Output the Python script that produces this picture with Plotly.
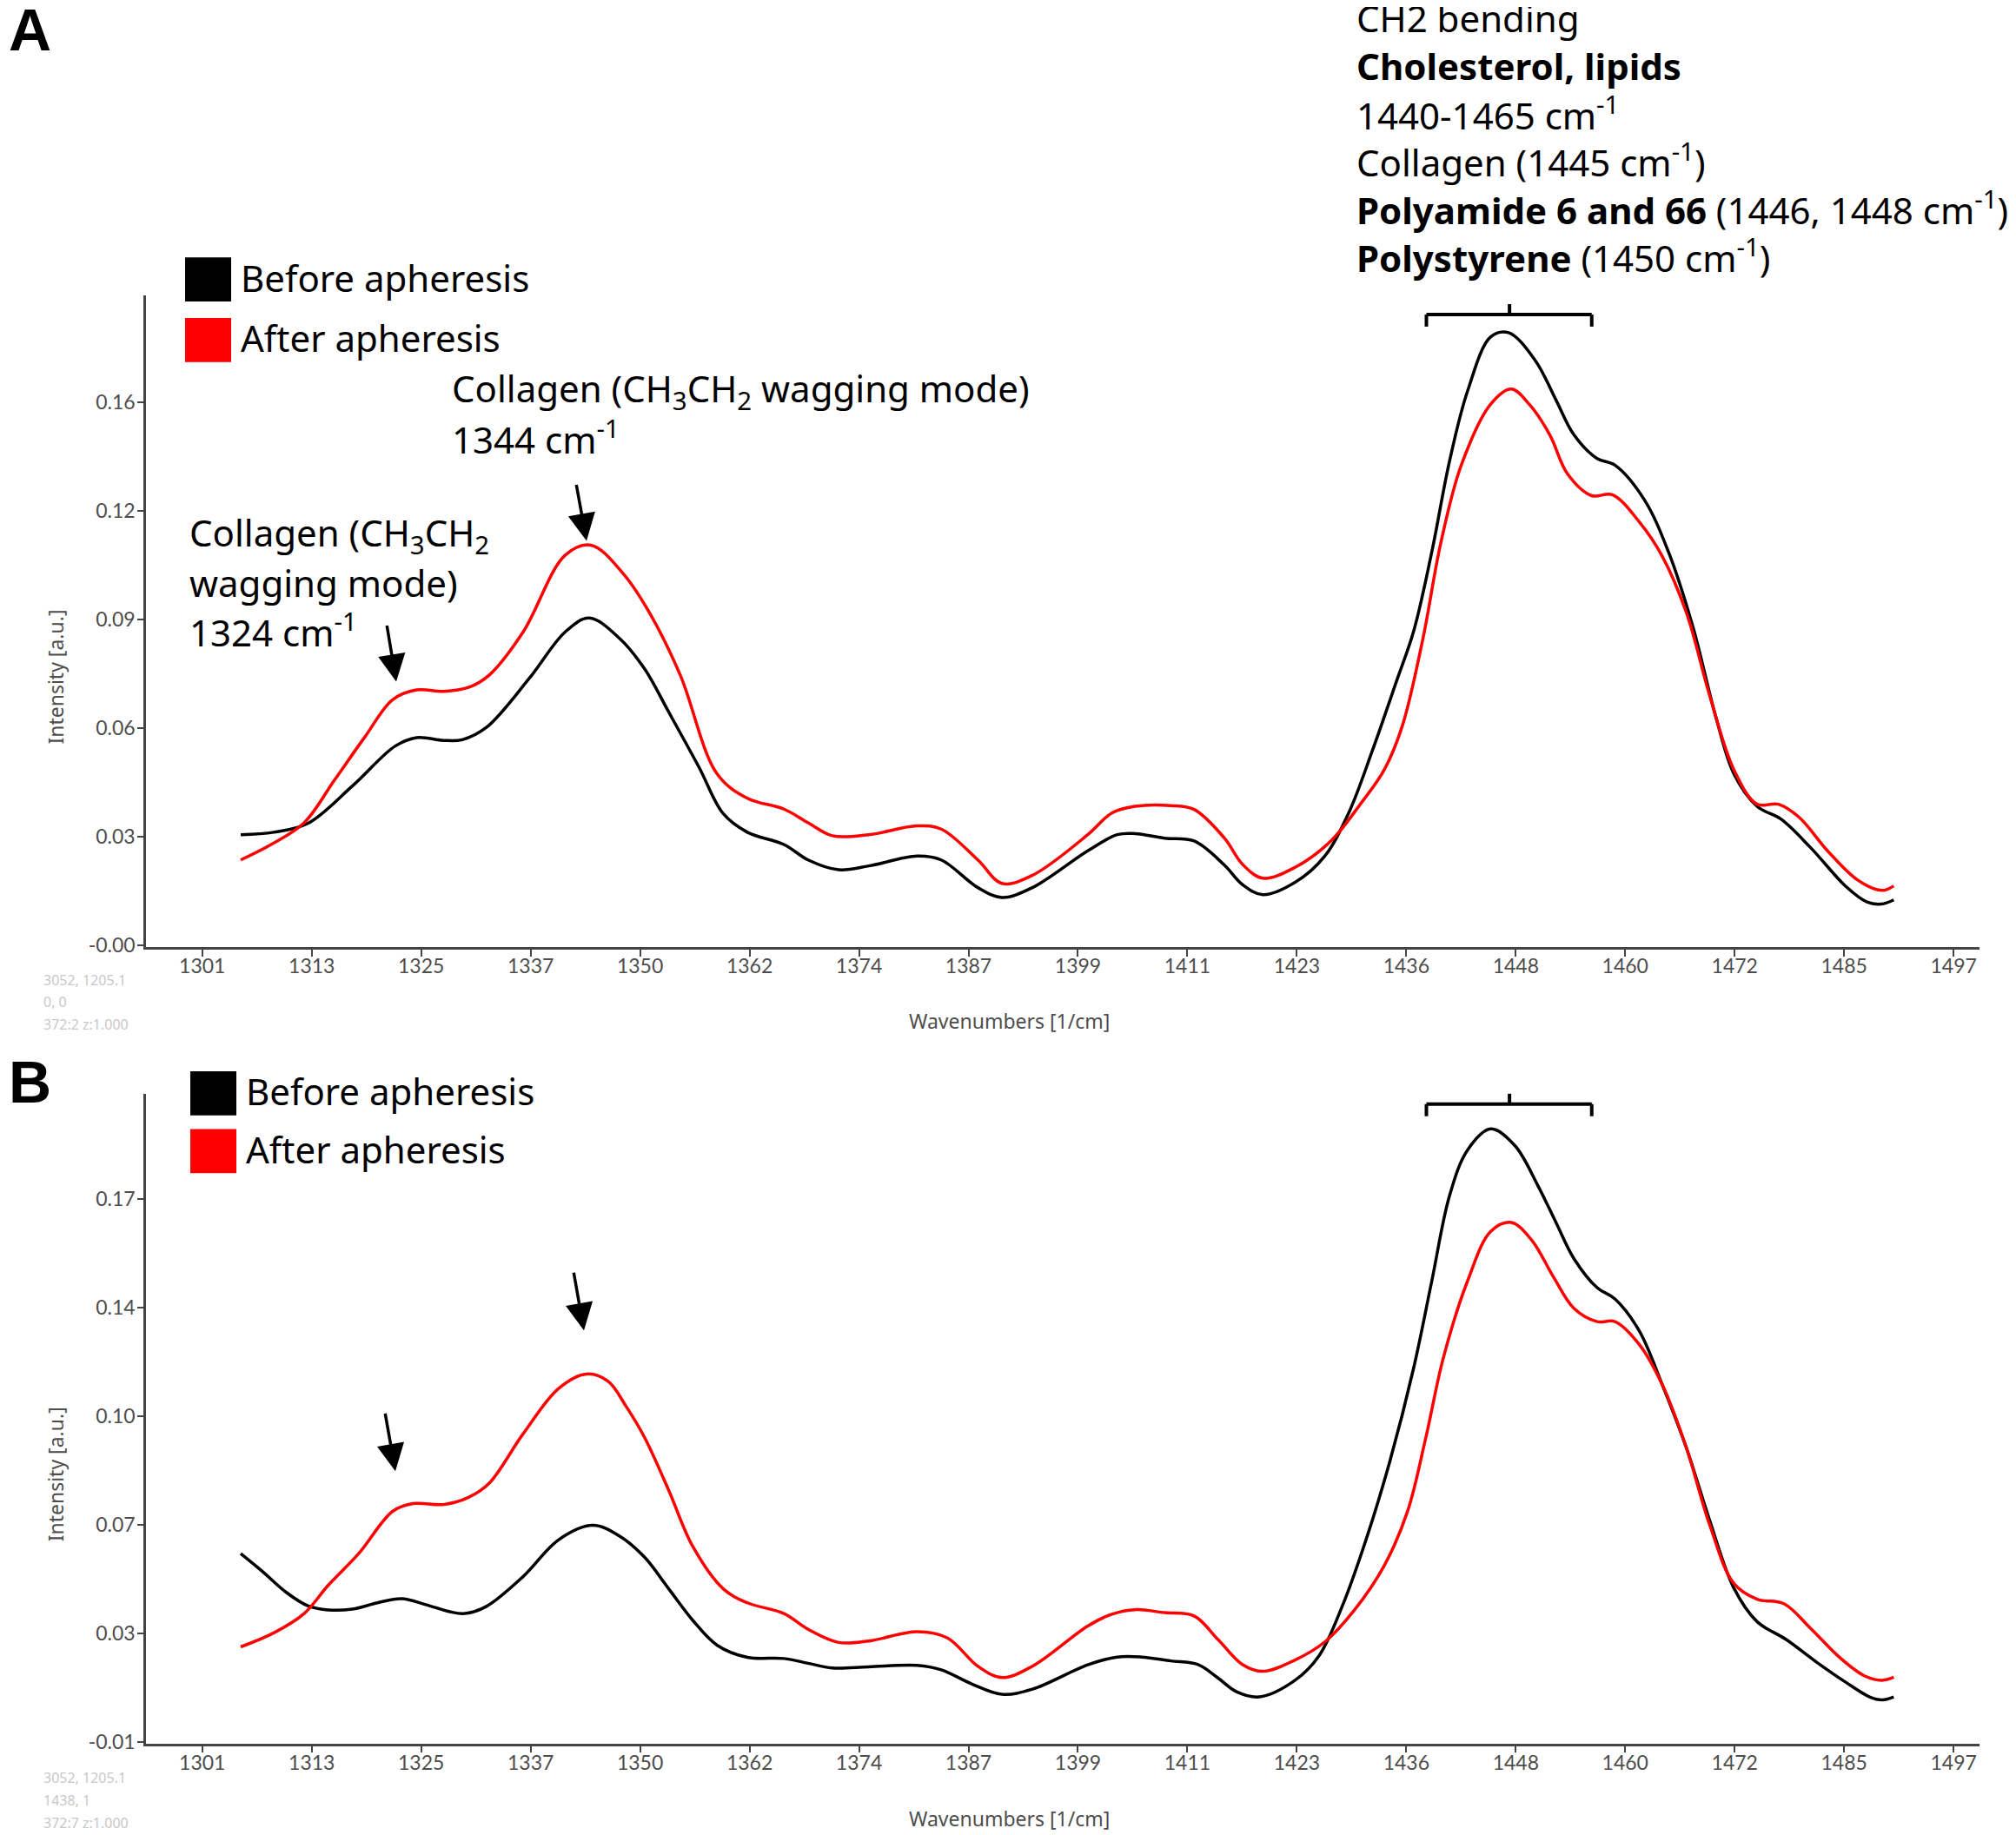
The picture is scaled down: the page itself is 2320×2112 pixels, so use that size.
import plotly.graph_objects as go

W, H = 2320, 2112

# ---------------- data ----------------
a_x_before = [1305.3, 1309.0, 1312.8, 1317.8, 1322.6, 1325.0, 1328.0, 1330.1, 1332.8, 1337.6,
              1341.6, 1344.3, 1347.7, 1350.5, 1353.2, 1356.6, 1359.3, 1362.0, 1366.1, 1368.8,
              1372.2, 1375.6, 1381.0, 1383.7, 1387.8, 1390.5, 1393.9, 1400.1, 1403.4, 1405.4,
              1408.7, 1412.0, 1415.4, 1417.4, 1419.7, 1423.3, 1426.6, 1429.3, 1431.9, 1434.6,
              1436.6, 1438.6, 1440.6, 1442.6, 1445.2, 1447.2, 1450.2, 1452.5, 1454.5, 1457.1,
              1459.1, 1462.4, 1465.1, 1467.8, 1470.4, 1472.4, 1475.0, 1477.7, 1481.0, 1485.0,
              1487.3, 1488.9, 1490.3]
a_before = [0.0316, 0.0323, 0.0348, 0.0455, 0.0569, 0.0593, 0.0585, 0.0587, 0.0622, 0.0762,
            0.0894, 0.0934, 0.0876, 0.0789, 0.0666, 0.0508, 0.0376, 0.0323, 0.0288, 0.0244,
            0.0216, 0.0227, 0.0255, 0.0244, 0.0165, 0.0137, 0.0165, 0.0270, 0.0316, 0.0319,
            0.0306, 0.0298, 0.0229, 0.0174, 0.0145, 0.0180, 0.0254, 0.0378, 0.0552, 0.0750,
            0.0899, 0.1122, 0.1383, 0.1581, 0.1736, 0.1748, 0.1668, 0.1556, 0.1457, 0.1389,
            0.1370, 0.1271, 0.1122, 0.0911, 0.0651, 0.0490, 0.0397, 0.0360, 0.0279, 0.0167,
            0.0124, 0.0118, 0.0130]

a_x_after = [1305.3, 1308.7, 1312.4, 1315.8, 1319.2, 1322.3, 1325.0, 1328.0, 1330.8, 1333.1,
             1336.9, 1341.6, 1344.5, 1348.1, 1351.1, 1354.5, 1358.6, 1362.0, 1366.1, 1368.8,
             1371.5, 1375.6, 1381.0, 1383.7, 1387.8, 1390.5, 1393.9, 1400.1, 1402.8, 1405.4,
             1409.4, 1412.0, 1415.4, 1417.4, 1419.7, 1423.3, 1427.3, 1430.6, 1433.3, 1435.3,
             1437.6, 1439.6, 1441.9, 1445.2, 1447.5, 1449.5, 1451.8, 1453.8, 1456.5, 1458.8,
             1461.8, 1464.4, 1467.1, 1469.7, 1472.4, 1475.0, 1477.4, 1479.7, 1483.0, 1486.3,
             1489.0, 1490.3]
a_after = [0.0244, 0.0288, 0.0350, 0.0472, 0.0595, 0.0701, 0.0729, 0.0725, 0.0736, 0.0771,
           0.0894, 0.1113, 0.1142, 0.1061, 0.0947, 0.0771, 0.0490, 0.0420, 0.0389, 0.0350,
           0.0313, 0.0316, 0.0341, 0.0332, 0.0244, 0.0177, 0.0200, 0.0316, 0.0378, 0.0397,
           0.0399, 0.0388, 0.0306, 0.0232, 0.0192, 0.0223, 0.0298, 0.0403, 0.0502, 0.0626,
           0.0874, 0.1147, 0.1370, 0.1544, 0.1587, 0.1544, 0.1457, 0.1345, 0.1283, 0.1286,
           0.1209, 0.1110, 0.0949, 0.0713, 0.0502, 0.0403, 0.0403, 0.0366, 0.0267, 0.0186,
           0.0157, 0.0170]

b_x_before = [1305.3, 1307.7, 1310.4, 1312.8, 1315.1, 1317.8, 1320.6, 1323.3, 1326.0, 1328.7,
              1330.4, 1332.8, 1336.9, 1340.9, 1344.7, 1347.7, 1350.5, 1353.2, 1355.9, 1358.6,
              1362.0, 1366.1, 1368.8, 1371.5, 1375.6, 1381.0, 1383.7, 1387.1, 1390.5, 1393.9,
              1400.1, 1403.4, 1406.1, 1409.4, 1412.4, 1414.7, 1416.7, 1419.3, 1423.3, 1426.0,
              1428.6, 1431.3, 1433.9, 1436.6, 1438.6, 1440.6, 1442.6, 1445.2, 1447.9, 1450.5,
              1452.5, 1454.5, 1457.1, 1459.1, 1461.8, 1464.4, 1467.1, 1469.7, 1472.4, 1475.0,
              1478.3, 1481.7, 1485.0, 1487.6, 1489.0, 1490.3]
b_before = [0.0553, 0.0494, 0.0423, 0.0378, 0.0364, 0.0367, 0.0388, 0.0402, 0.0382, 0.0358,
            0.0352, 0.0376, 0.0476, 0.0600, 0.0648, 0.0612, 0.0541, 0.0435, 0.0329, 0.0246,
            0.0205, 0.0201, 0.0185, 0.0169, 0.0173, 0.0178, 0.0163, 0.0116, 0.0081, 0.0098,
            0.0180, 0.0206, 0.0206, 0.0193, 0.0181, 0.0135, 0.0090, 0.0072, 0.0128, 0.0211,
            0.0378, 0.0605, 0.0862, 0.1180, 0.1468, 0.1756, 0.1908, 0.1979, 0.1923, 0.1787,
            0.1665, 0.1544, 0.1446, 0.1408, 0.1302, 0.1120, 0.0908, 0.0665, 0.0438, 0.0325,
            0.0264, 0.0188, 0.0120, 0.0072, 0.0062, 0.0072]

b_x_after = [1305.3, 1309.0, 1312.4, 1315.1, 1318.5, 1322.3, 1324.6, 1328.0, 1330.8, 1333.1,
             1336.9, 1340.9, 1344.0, 1346.4, 1348.4, 1350.5, 1353.2, 1355.9, 1359.3, 1362.0,
             1366.1, 1368.8, 1372.2, 1375.6, 1381.0, 1384.4, 1387.8, 1390.5, 1393.9, 1400.1,
             1402.8, 1405.4, 1408.7, 1412.0, 1414.7, 1417.4, 1419.7, 1423.3, 1426.6, 1429.9,
             1433.3, 1435.9, 1437.9, 1439.9, 1442.6, 1445.2, 1447.5, 1449.8, 1452.2, 1454.5,
             1457.1, 1459.1, 1461.8, 1464.4, 1467.1, 1469.7, 1472.4, 1475.0, 1478.0, 1481.0,
             1484.3, 1487.0, 1489.0, 1490.3]
b_after = [0.0240, 0.0287, 0.0352, 0.0447, 0.0553, 0.0695, 0.0721, 0.0718, 0.0742, 0.0789,
           0.0955, 0.1108, 0.1156, 0.1132, 0.1049, 0.0943, 0.0766, 0.0577, 0.0435, 0.0388,
           0.0352, 0.0299, 0.0255, 0.0260, 0.0291, 0.0270, 0.0175, 0.0137, 0.0175, 0.0310,
           0.0350, 0.0365, 0.0355, 0.0344, 0.0264, 0.0181, 0.0158, 0.0196, 0.0256, 0.0362,
           0.0514, 0.0696, 0.0938, 0.1211, 0.1468, 0.1635, 0.1665, 0.1605, 0.1483, 0.1377,
           0.1332, 0.1332, 0.1256, 0.1120, 0.0908, 0.0650, 0.0453, 0.0400, 0.0385, 0.0302,
           0.0203, 0.0143, 0.0128, 0.0138]

x_tickvals = [1301 + 12.25 * i for i in range(17)]
x_ticktext = ["1301", "1313", "1325", "1337", "1350", "1362", "1374", "1387", "1399",
              "1411", "1423", "1436", "1448", "1460", "1472", "1485", "1497"]
a_tickvals = [0.0, 0.031, 0.062, 0.093, 0.124, 0.155]
a_ticktext = ["-0.00", "0.03", "0.06", "0.09", "0.12", "0.16"]
b_tickvals = [-0.008, 0.0285, 0.065, 0.1015, 0.138, 0.1745]
b_ticktext = ["-0.01", "0.03", "0.07", "0.10", "0.14", "0.17"]

series_names = ["Before apheresis", "After apheresis"]
series_colors = ["#000000", "#ff0000"]

# ---------------- helpers ----------------
def px(x):
    return x / W

def py(y):
    return 1 - y / H

TICK_FONT = dict(family="Lato", size=23, color="#4d4d4d")
ANN_FONT = "Noto Sans"
ANN_SIZE = 42

fig = go.Figure()
for xs, ys, name, col, xa, ya in [
    (a_x_before, a_before, series_names[0], series_colors[0], "x", "y"),
    (a_x_after, a_after, series_names[1], series_colors[1], "x", "y"),
    (b_x_before, b_before, series_names[0], series_colors[0], "x2", "y2"),
    (b_x_after, b_after, series_names[1], series_colors[1], "x2", "y2"),
]:
    fig.add_trace(go.Scatter(x=xs, y=ys, mode="lines", name=name, showlegend=False,
                             line=dict(color=col, width=3.5, shape="spline", smoothing=1.0),
                             xaxis=xa, yaxis=ya))

xdom = [px(160), px(2270)]
xcommon = dict(range=[1294.7, 1499.9], tickvals=x_tickvals, ticktext=x_ticktext,
               showgrid=False, zeroline=False, showline=True, linecolor="#444444",
               linewidth=2.5, ticks="outside", ticklen=8, tickwidth=2, tickcolor="#444444",
               tickfont=TICK_FONT, ticklabelstandoff=-8, domain=xdom)
ycommon = dict(showgrid=False, zeroline=False, showline=True, linecolor="#444444",
               linewidth=2.5, ticks="outside", ticklen=7, tickwidth=2, tickcolor="#444444",
               tickfont=TICK_FONT, ticklabelstandoff=-2)

fig.update_layout(
    width=W, height=H,
    margin=dict(l=0, r=0, t=0, b=0),
    paper_bgcolor="white", plot_bgcolor="white",
    xaxis=dict(**xcommon, anchor="y"),
    yaxis=dict(**ycommon, range=[-0.0004, 0.1854], tickvals=a_tickvals, ticktext=a_ticktext,
               domain=[py(1088), py(334)], anchor="x"),
    xaxis2=dict(**xcommon, anchor="y2"),
    yaxis2=dict(**ycommon, range=[-0.0084, 0.2097], tickvals=b_tickvals, ticktext=b_ticktext,
                domain=[py(2010), py(1258)], anchor="x2"),
)

ann = []
def text(x, y, s, size=ANN_SIZE, color="black", family=ANN_FONT, xanchor="left", angle=0):
    ann.append(dict(x=px(x), y=py(y), xref="paper", yref="paper", text=s, showarrow=False,
                    xanchor=xanchor, yanchor="middle", textangle=angle,
                    font=dict(family=family, size=size, color=color)))

# panel letters
text(0, 26, "<b>A</b>", size=68, family="Liberation Sans")
text(0, 1244, "<b>B</b>", size=68, family="Liberation Sans")

# axis titles
for yy in (1174, 2097):
    text(1153, yy, "Wavenumbers [1/cm]", size=23, color="#4d4d4d", xanchor="center")
for yy in (776, 1699):
    text(56, yy, "Intensity [a.u.]", size=23, color="#4d4d4d", xanchor="center", angle=-90)

# faint status texts
for i, s in enumerate(["3052, 1205.1", "0, 0", "372:2 z:1.000"]):
    text(40, 1126 + 26 * i, s, size=16, color="#c8c8c8")
for i, s in enumerate(["3052, 1205.1", "1438, 1", "372:7 z:1.000"]):
    text(40, 2050 + 26 * i, s, size=16, color="#c8c8c8")

# legends (colored squares + text)
shapes = []
for (sx0, sy0, ty, step) in [(205, 290, 313, 70), (211, 1232, 1255, 67)]:
    for k in range(2):
        dy = k * step
        shapes.append(dict(type="rect", xref="paper", yref="paper",
                           x0=px(sx0), x1=px(sx0 + 53), y0=py(sy0 + dy), y1=py(sy0 + dy + 51),
                           fillcolor=series_colors[k], line=dict(width=0)))
        text(sx0 + 62, ty + dy, series_names[k])

# top annotation block
block = ["CH2 bending", "<b>Cholesterol, lipids</b>", "1440-1465 cm<sup>-1</sup>",
         "Collagen (1445 cm<sup>-1</sup>)",
         "<b>Polyamide 6 and 66</b> (1446, 1448 cm<sup>-1</sup>)",
         "<b>Polystyrene</b> (1450 cm<sup>-1</sup>)"]
for i, s in enumerate(block):
    text(1551, 13 + 55 * i, s)

# collagen annotations
text(510, 444, "Collagen (CH<sub>3</sub>CH<sub>2</sub> wagging mode)")
text(510, 498, "1344 cm<sup>-1</sup>")
text(208, 611, "Collagen (CH<sub>3</sub>CH<sub>2</sub>")
text(208, 666, "wagging mode)")
text(208, 722, "1324 cm<sup>-1</sup>")

# arrows
for (tx, ty, dx, dy) in [(667, 618, -12, -66), (448, 781, -11, -66),
                         (664, 1532, -12, -68), (447, 1695, -12, -68)]:
    ann.append(dict(x=px(tx), y=py(ty), xref="paper", yref="paper", ax=dx, ay=dy,
                    axref="pixel", ayref="pixel", showarrow=True, arrowhead=2,
                    arrowsize=1.8, arrowwidth=3.5, arrowcolor="black", text=""))

# brackets
for (ybar, yend, ytop, xr) in [(356, 370, 344, "x"), (1270, 1284, 1258, "x2")]:
    path_pts = [(1438.0, yend), (1438.0, ybar), (1456.5, ybar), (1456.5, yend)]
    for (p0, p1) in zip(path_pts[:-1], path_pts[1:]):
        shapes.append(dict(type="line", xref=xr, yref="paper", x0=p0[0], x1=p1[0],
                           y0=py(p0[1]), y1=py(p1[1]), line=dict(color="black", width=4)))
    shapes.append(dict(type="line", xref=xr, yref="paper", x0=1447.3, x1=1447.3,
                       y0=py(ybar), y1=py(ytop), line=dict(color="black", width=4)))

fig.update_layout(annotations=ann, shapes=shapes)
fig.write_html("out.html")
